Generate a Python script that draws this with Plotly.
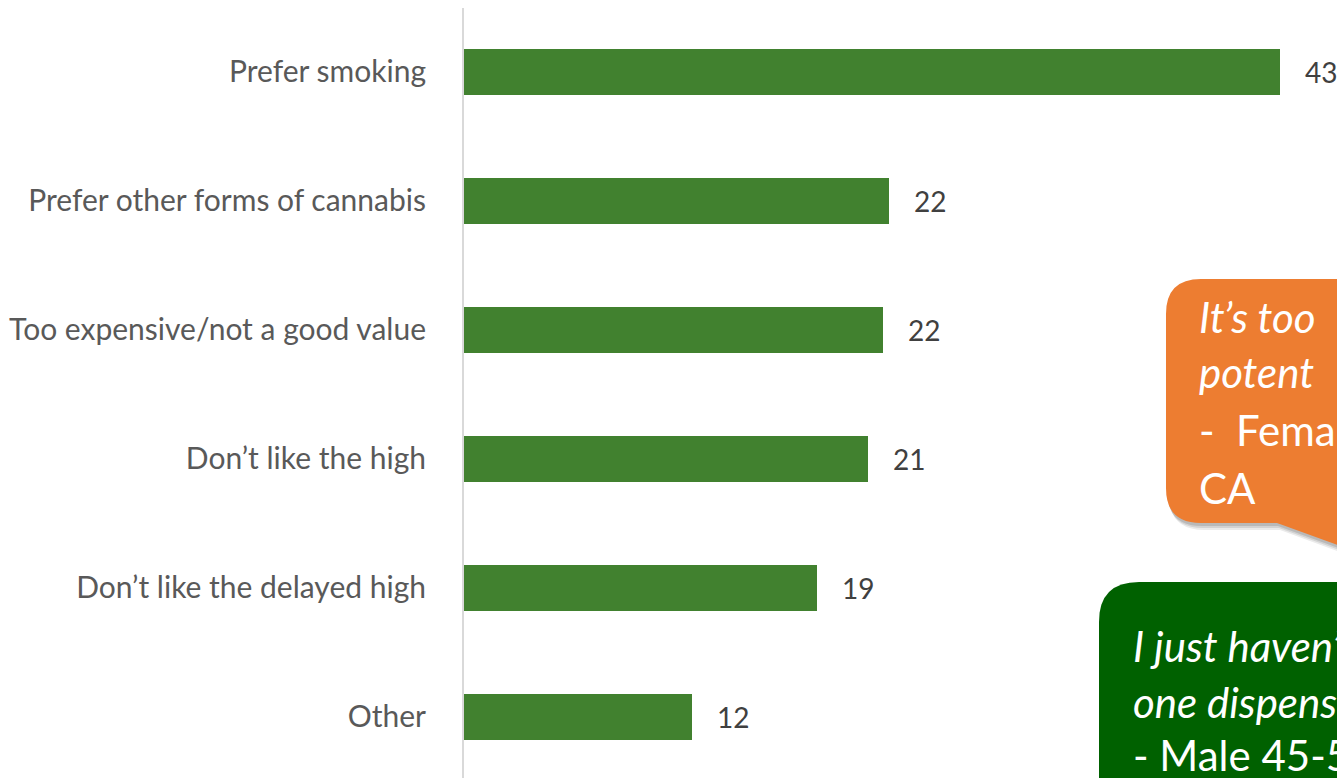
import plotly.graph_objects as go

# ---- data ----
categories = [
    "Prefer smoking",
    "Prefer other forms of cannabis",
    "Too expensive/not a good value",
    "Don’t like the high",
    "Don’t like the delayed high",
    "Other",
]
values = [43.0, 22.4, 22.1, 21.3, 18.6, 12.0]
value_labels = ["43", "22", "22", "21", "19", "12"]

quote1_lines = ["<i>It’s too</i>", "<i>potent</i>", "-  Female 35-44,", "CA"]
quote2_lines = ["<i>I just haven’t found</i>", "<i>one dispensary</i>", "- Male 45-54, CO"]

# ---- styling ----
BAR = "#41812F"
ORANGE = "#ED7D31"
DKGREEN = "#006100"
FONT = "Lato"

W, H = 1337, 778
L, T = 464, 8
PW, PH = W - L, H - T


def px(x):
    return (x - L) / PW


def py(y):
    return 1 - (y - T) / PH


def P(x, y):
    return f"{px(x):.5f},{py(y):.5f}"


fig = go.Figure(
    go.Bar(
        x=values,
        y=categories,
        orientation="h",
        width=0.357,
        marker=dict(color=BAR, line=dict(width=0)),
        hoverinfo="skip",
    )
)

annotations = []
for c, v, lab in zip(categories, values, value_labels):
    annotations.append(
        dict(
            x=v, y=c, xref="x", yref="y", text=lab, showarrow=False,
            xanchor="left", yanchor="middle", xshift=23,
            font=dict(family=FONT, size=28, color="#404040"),
        )
    )

shapes = []
# orange callout with shadow
r = 35
def orange_path(dx=0, dy=0):
    x0, y0, y1 = 1166 + dx, 279 + dy, 523 + dy
    return (
        f"M {P(x0 + r, y0)} L {P(1440, y0)} L {P(1440, 582 + dy)} "
        f"L {P(1277 + dx, y1)} L {P(x0 + r, y1)} Q {P(x0, y1)} {P(x0, y1 - r)} "
        f"L {P(x0, y0 + r)} Q {P(x0, y0)} {P(x0 + r, y0)} Z"
    )

for dx, dy, op in [(1, 3, 0.12), (2, 5, 0.10), (3, 7, 0.08)]:
    shapes.append(dict(type="path", xref="paper", yref="paper", path=orange_path(dx, dy),
                       fillcolor="rgba(0,0,0,1)", opacity=op, line=dict(width=0), layer="above"))
shapes.append(dict(type="path", xref="paper", yref="paper", path=orange_path(),
                   fillcolor=ORANGE, line=dict(width=0), layer="above"))

# dark green callout
r2 = 40
gx, gy = 1099, 582
shapes.append(dict(
    type="path", xref="paper", yref="paper",
    path=(f"M {P(gx + r2, gy)} L {P(1440, gy)} L {P(1440, 820)} L {P(gx, 820)} "
          f"L {P(gx, gy + r2)} Q {P(gx, gy)} {P(gx + r2, gy)} Z"),
    fillcolor=DKGREEN, line=dict(width=0), layer="above"))

for txt, base in zip(quote1_lines, [332, 387, 445, 503]):
    annotations.append(dict(
        x=px(1197), y=py(base - 15), xref="paper", yref="paper", text=txt,
        showarrow=False, xanchor="left", yanchor="middle",
        font=dict(family=FONT, size=42, color="white")))

for txt, base in zip(quote2_lines, [661, 717, 770]):
    annotations.append(dict(
        x=px(1131), y=py(base - 15), xref="paper", yref="paper", text=txt,
        showarrow=False, xanchor="left", yanchor="middle",
        font=dict(family=FONT, size=42, color="white")))

fig.update_layout(
    width=W, height=H,
    margin=dict(l=L, r=0, t=T, b=0, pad=0),
    paper_bgcolor="white", plot_bgcolor="white",
    showlegend=False,
    bargap=0,
    xaxis=dict(range=[0, 46], showgrid=False, zeroline=False, showticklabels=False,
               showline=False, fixedrange=True),
    yaxis=dict(range=[5.473, -0.496], showgrid=False, zeroline=False, showline=True,
               linecolor="#D9D9D9", linewidth=2, ticks="", ticklabelstandoff=30,
               tickfont=dict(family=FONT, size=30, color="#595959"), fixedrange=True),
    shapes=shapes,
    annotations=annotations,
)

fig.write_html("out.html")
